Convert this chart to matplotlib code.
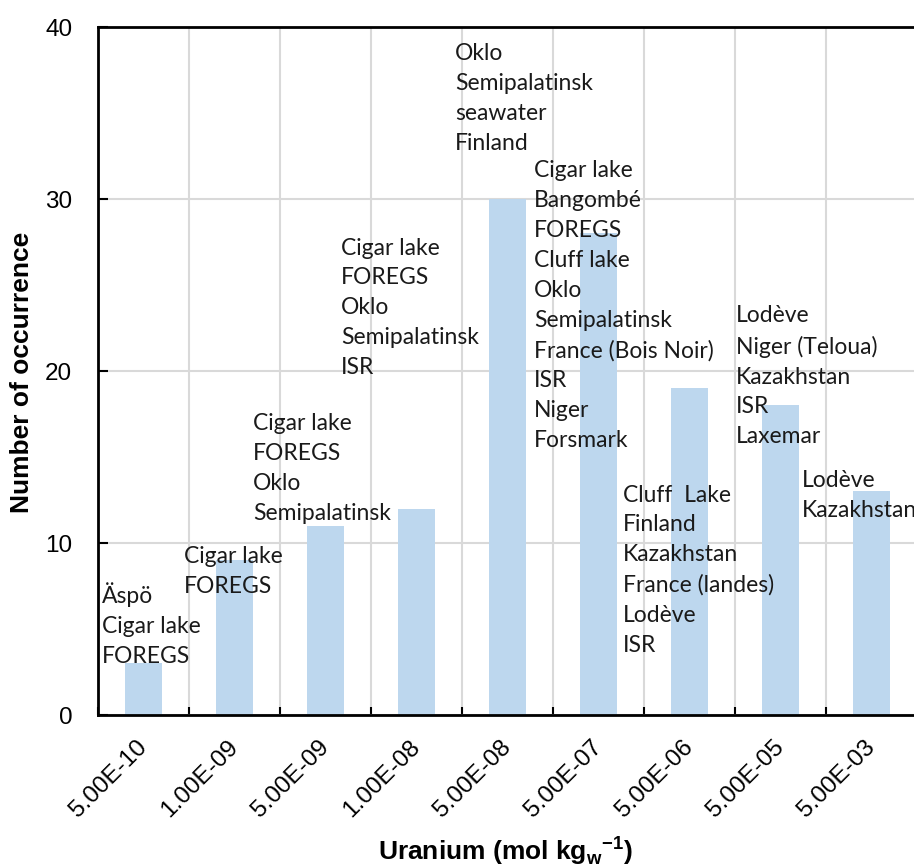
import matplotlib
matplotlib.use("Agg")
import matplotlib.pyplot as plt
from matplotlib.ticker import FixedLocator

# Данные: концентрация урана и число случаев
categories = ["5.00E-10", "1.00E-09", "5.00E-09", "1.00E-08", "5.00E-08",
              "5.00E-07", "5.00E-06", "5.00E-05", "5.00E-03"]
counts = [3, 9, 11, 12, 30, 28, 19, 18, 13]
sites = [
    ["Äspö", "Cigar lake", "FOREGS"],
    ["Cigar lake", "FOREGS"],
    ["Cigar lake", "FOREGS", "Oklo", "Semipalatinsk"],
    ["Cigar lake", "FOREGS", "Oklo", "Semipalatinsk", "ISR"],
    ["Oklo", "Semipalatinsk", "seawater", "Finland"],
    ["Cigar lake", "Bangombé", "FOREGS", "Cluff lake", "Oklo", "Semipalatinsk",
     "France (Bois Noir)", "ISR", "Niger", "Forsmark"],
    ["Cluff  Lake", "Finland", "Kazakhstan", "France (landes)", "Lodève", "ISR"],
    ["Lodève", "Niger (Teloua)", "Kazakhstan", "ISR", "Laxemar"],
    ["Lodève", "Kazakhstan"],
]
y_ticks = [0, 10, 20, 30, 40]

# Положение подписей (левый край, базовая линия последней строки), в координатах данных
label_dx = [-0.456, -0.555, -0.797, -0.830, -0.577, -0.709, -0.731, -0.489, -0.764]
label_y = [3.05, 7.08, 11.34, 19.83, 32.85, 15.60, 3.69, 15.80, 11.51]

plt.rcParams['font.family'] = ['Liberation Sans', 'DejaVu Sans']
plt.rcParams['mathtext.fontset'] = 'custom'
plt.rcParams['mathtext.rm'] = 'Liberation Sans:bold'

fig = plt.figure(figsize=(9.14, 8.66), dpi=100)
ax = fig.add_axes([98 / 914, 151 / 866, 819 / 914, 688 / 866])

x = list(range(len(categories)))
ax.bar(x, counts, width=0.4, color='#BDD7EE', zorder=2)

# Подписи с названиями участков
for i, names in enumerate(sites):
    ax.text(i + label_dx[i], label_y[i], "\n".join(names), ha='left', va='baseline',
            fontsize=16.5, family=['Lato', 'DejaVu Sans'], color='#1a1a1a',
            linespacing=1.52, zorder=3, clip_on=False)

# Оси
ax.set_xlim(-0.5, len(categories) - 0.5)
ax.set_ylim(0, 40)
ax.set_yticks(y_ticks)
ax.set_xticks(x)
ax.set_xticklabels(categories, rotation=45, ha='right', va='center',
                   rotation_mode='anchor')
ax.xaxis.set_minor_locator(FixedLocator([i + 0.5 for i in range(-1, len(categories))]))

ax.tick_params(axis='x', which='major', direction='in', length=4, width=1.5,
               pad=21, labelsize=17.5, colors='black')
ax.tick_params(axis='x', which='minor', direction='in', length=6, width=1.5)
ax.tick_params(axis='y', which='major', direction='in', length=7, width=1.5,
               pad=18.5, labelsize=17.5)

# Сетка
ax.grid(True, axis='y', which='major', color='#D9D9D9', linewidth=1.5, zorder=0)
ax.grid(True, axis='x', which='minor', color='#D9D9D9', linewidth=1.5, zorder=0)
ax.set_axisbelow(True)

for side in ['left', 'bottom', 'top']:
    ax.spines[side].set_linewidth(2)
    ax.spines[side].set_color('black')
ax.spines['right'].set_visible(False)

fig.text(22 / 914, 1 - 372 / 866, 'Number of occurrence', rotation=90,
         ha='center', va='center', fontsize=19, fontweight='bold')
fig.text(506 / 914, 1 - 860 / 866,
         r'Uranium (mol kg$_\mathregular{w}{}^\mathregular{-1}$)',
         ha='center', va='baseline', fontsize=19, fontweight='bold')

fig.savefig('out.png', dpi=100)
